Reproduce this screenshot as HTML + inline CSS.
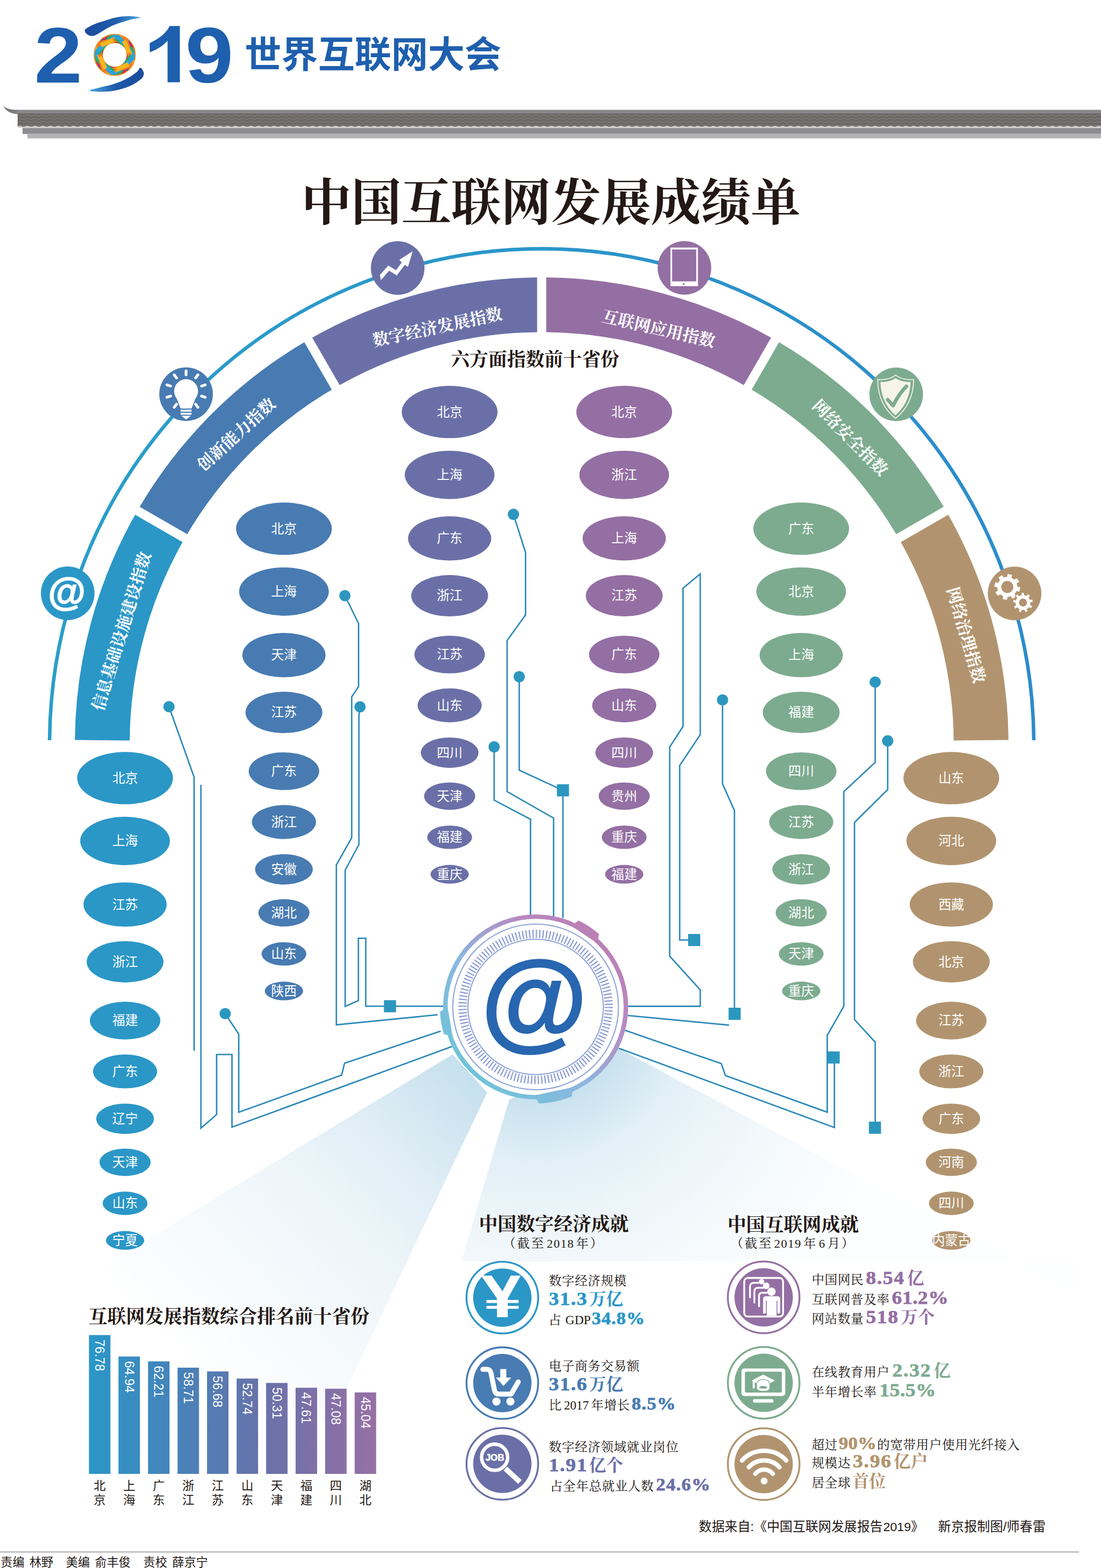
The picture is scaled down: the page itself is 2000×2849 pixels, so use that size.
<!DOCTYPE html>
<html lang="zh-CN"><head><meta charset="utf-8"><title>中国互联网发展成绩单</title>
<style>html,body{margin:0;padding:0;background:#fff}svg{display:block}</style></head>
<body>
<svg width="2000" height="2849" viewBox="0 0 2000 2849" role="img">
<desc>2019 世界互联网大会 — 中国互联网发展成绩单：六方面指数前十省份、互联网发展指数综合排名前十省份、中国数字经济成就、中国互联网成就</desc>
<defs>
<linearGradient id="bm1" gradientUnits="userSpaceOnUse" x1="855" y1="1950" x2="330" y2="2480"><stop offset="0" stop-color="#c6e0ee"/><stop offset="0.25" stop-color="#dfedf5"/><stop offset="0.5" stop-color="#eef6fa"/><stop offset="0.8" stop-color="#f8fbfd"/><stop offset="1" stop-color="#fff"/></linearGradient>
<radialGradient id="bm2" gradientUnits="userSpaceOnUse" cx="973" cy="1830" r="680"><stop offset="0.23" stop-color="#c6e0ee"/><stop offset="0.42" stop-color="#e3f0f7"/><stop offset="0.68" stop-color="#f2f8fb"/><stop offset="1" stop-color="#fdfeff"/></radialGradient>
<linearGradient id="br1" x1="0" x2="1" y1="0" y2="0"><stop offset="0" stop-color="#1c4a9c"/><stop offset="0.55" stop-color="#1f5cab"/><stop offset="1" stop-color="#4aa8de"/></linearGradient>
<linearGradient id="br2" x1="1" x2="0" y1="0" y2="0"><stop offset="0" stop-color="#1c4a9c"/><stop offset="0.55" stop-color="#1f5cab"/><stop offset="1" stop-color="#4aa8de"/></linearGradient>
<pattern id="wv" patternUnits="userSpaceOnUse" x="32" y="206.500" width="14" height="6"><path d="M0 3.400Q3.500 1.400 7 3.400T14 3.400" fill="none" stroke="#807a7a" stroke-width="1.500"/></pattern>
<pattern id="wv2" patternUnits="userSpaceOnUse" x="32" y="227.500" width="14" height="6"><path d="M0 3.400Q3.500 1.600 7 3.400T14 3.400" fill="none" stroke="#dcdcdc" stroke-width="2.600"/></pattern>
<linearGradient id="thin" x1="0" x2="1" y1="0" y2="0"><stop offset="0" stop-color="#2a9ec9"/><stop offset="1" stop-color="#2b8ccb"/></linearGradient>
<linearGradient id="mg" gradientUnits="userSpaceOnUse" x1="850" y1="1950" x2="1100" y2="1710"><stop offset="0" stop-color="#6fc3d8"/><stop offset="0.4" stop-color="#8cb6df"/><stop offset="0.75" stop-color="#b78bc2"/><stop offset="1" stop-color="#bb7fb5"/></linearGradient>
<linearGradient id="bg" gradientUnits="userSpaceOnUse" x1="161" y1="0" x2="683" y2="0"><stop offset="0" stop-color="#2a97c8"/><stop offset="0.3" stop-color="#4683ba"/><stop offset="0.62" stop-color="#6a71a9"/><stop offset="1" stop-color="#9770a5"/></linearGradient>
</defs>
<path d="M822 1916L885 1985L601 2583L20 2402Z" fill="url(#bm1)"/>
<path d="M925 1998L1124 1905L1960 2352L1960 2292L838 2292Z" fill="url(#bm2)"/>
<g transform="translate(62 149.5) scale(1.1 1)">
<text x="0" y="0" font-family="Liberation Sans" font-size="143" font-weight="bold" fill="#1e5fae">2</text>
</g>
<path d="M326.700 149.500V47.300H308Q300 65 272 78.300V95Q292 88 304.400 74V149.500Z" fill="#1e5fae"/>
<g transform="translate(336.5 149.5) scale(1.1 1)">
<text x="0" y="0" font-family="Liberation Sans" font-size="143" font-weight="bold" fill="#1e5fae">9</text>
</g>
<g fill="none" stroke-width="7.6" transform="translate(208.4 99.65)">
<circle r="29.850" stroke="#f28a1e" stroke-width="16.700"/>
<rect x="-26" y="-26" width="52" height="52" rx="10" stroke="#2c4a9a" transform="rotate(5)"/>
<rect x="-26" y="-26" width="52" height="52" rx="10" stroke="#d9177d" transform="rotate(20)"/>
<rect x="-26" y="-26" width="52" height="52" rx="10" stroke="#2faa4a" transform="rotate(35)"/>
<rect x="-26" y="-26" width="52" height="52" rx="10" stroke="#29a3dc" transform="rotate(50)"/>
<rect x="-26" y="-26" width="52" height="52" rx="10" stroke="#f6b71b" transform="rotate(65)"/>
<rect x="-26" y="-26" width="52" height="52" rx="10" stroke="#f47b20" transform="rotate(80)"/>
<rect x="-26" y="-26" width="52" height="52" rx="10" stroke="#2faa4a" stroke-dasharray="23.9 23.9" stroke-dashoffset="0" transform="rotate(35)"/>
<rect x="-26" y="-26" width="52" height="52" rx="10" stroke="#29a3dc" stroke-dasharray="23.9 23.9" stroke-dashoffset="11.9" transform="rotate(50)"/>
<rect x="-26" y="-26" width="52" height="52" rx="10" stroke="#f6b71b" stroke-dasharray="23.9 23.9" stroke-dashoffset="0" transform="rotate(65)"/>
</g>
<path d="M154.5 53.5C166 45 178 41 189.600 37.900C203 33 216 29.800 229.300 29.400C240 29 250 30.500 256.100 32.400C247 33 238 35 229.300 37.900C219 41 209 44 199.500 48.800C191 53 184 58 177.600 61.700C172 65 167 66.500 162.800 64.700C157 62.500 152.500 57.500 154.500 53.500Z" fill="url(#br1)"/>
<path d="M253.100 123.700C252 128 248.500 131 244.100 134.100C237 140 228 144.500 219.300 148C210 152 200 155 189.600 157C181 159 172 161.500 163.700 162.900L163.700 165.400C176 167 188 167 199.500 165.900C210 164.500 220 162.500 229.300 159C237 156 243.500 153 249.100 149C254 145.500 258 142.500 260 139.100C262 135 261.500 131 259 127.200C257.500 124.500 255 122.500 253.100 123.700Z" fill="url(#br2)"/>
<text x="444.5" y="122.500" font-family="'Liberation Sans', 'Noto Sans CJK SC', sans-serif" font-size="66.600" font-weight="bold" fill="#1e5fae">世界互联网大会</text>
<path d="M5.600 192.300C11 197 19 199.600 32 199.800L32 207.200C18 206.500 10 201 5.600 192.300Z" fill="#7b7a7e"/>
<rect x="30" y="199.500" width="1970" height="7" fill="#88888c"/>
<rect x="32" y="206" width="1968" height="25.500" fill="#6c6665"/>
<rect x="32" y="206.500" width="1968" height="24" fill="url(#wv)"/>
<rect x="32" y="227.500" width="1968" height="6" fill="url(#wv2)"/>
<rect x="41" y="232.500" width="1959" height="11" fill="#8d8d91"/>
<rect x="50" y="243.500" width="1950" height="8" fill="#b1b3b4"/>
<text x="1001" y="400" font-family="'Liberation Serif', 'Noto Serif CJK SC', serif" font-size="90.700" font-weight="bold" fill="#231815" text-anchor="middle">中国互联网发展成绩单</text>
<path d="M90.03 1344.93A894 900 0 0 1 984 452A894 900 0 0 1 1877.97 1344.93" fill="none" stroke="url(#thin)" stroke-width="6.4"/>
<path d="M185.8 1345A798.2 798.2 0 0 1 292.7 952.9" fill="none" stroke="#2b97c7" stroke-width="99.6"/>
<path d="M292.7 952.9A798.2 798.2 0 0 1 584.9 660.7" fill="none" stroke="#487bb2" stroke-width="99.6"/>
<path d="M584.9 660.7A798.2 798.2 0 0 1 984 553.8" fill="none" stroke="#6a70a7" stroke-width="99.6"/>
<path d="M984 553.8A798.2 798.2 0 0 1 1383.1 660.7" fill="none" stroke="#946fa3" stroke-width="99.6"/>
<path d="M1383.1 660.7A798.2 798.2 0 0 1 1675.3 952.9" fill="none" stroke="#7dab8f" stroke-width="99.6"/>
<path d="M1675.3 952.9A798.2 798.2 0 0 1 1782.2 1345" fill="none" stroke="#b1946f" stroke-width="99.6"/>
<path d="M339.3 979.8L246.1 926" stroke="#fff" stroke-width="16.6"/>
<path d="M611.8 707.3L558 614.1" stroke="#fff" stroke-width="16.6"/>
<path d="M984 607.6L984 500" stroke="#fff" stroke-width="16.6"/>
<path d="M1356.2 707.3L1410 614.1" stroke="#fff" stroke-width="16.6"/>
<path d="M1628.7 979.8L1721.9 926" stroke="#fff" stroke-width="16.6"/>
<g font-family="'Liberation Serif', 'Noto Serif CJK SC', serif" font-size="30" font-weight="bold" fill="#fff" text-anchor="middle">
<text transform="translate(230.9 1150.1) rotate(-73)">信息基础设施建设指数</text>
<text transform="translate(436.4 797.3) rotate(-42.5)">创新能力指数</text>
<text transform="translate(796.6 604.7) rotate(-12)">数字经济发展指数</text>
<text transform="translate(1193.8 607.6) rotate(13)">互联网应用指数</text>
<text transform="translate(1537 802.8) rotate(45.3)">网络安全指数</text>
<text transform="translate(1744.8 1157) rotate(73.9)">网络治理指数</text>
</g>
<circle cx="123" cy="1078" r="48.7" fill="#2b97c7"/>
<circle cx="338" cy="716.2" r="48.7" fill="#487bb2"/>
<circle cx="722.4" cy="487" r="48.7" fill="#6a70a7"/>
<circle cx="1243.3" cy="486.8" r="48.7" fill="#946fa3"/>
<circle cx="1628" cy="716.5" r="48.7" fill="#7dab8f"/>
<circle cx="1843" cy="1078.3" r="48.7" fill="#b1946f"/>
<text x="121.5" y="1098.5" font-family="Liberation Sans" font-size="70" font-weight="bold" fill="#fff" text-anchor="middle" stroke="#fff" stroke-width="1.6">@</text>
<g transform="translate(338 716.2)" fill="#fff">
<path d="M-9.900 26L-17 8A21.700 21.700 0 1 1 17 8L9.900 26Z"/>
<path d="M-9.900 28.300h19.800v3.400h-19.800zM-9.900 33.800h19.800v3.400h-19.800zM-8.700 39.400h17.400L0 46z"/>
<g stroke="#fff" stroke-width="5" stroke-linecap="round">
<path d="M-17.3 18.3L-21.5 23.9"/>
<path d="M-28.1 3.5L-34.7 5.7"/>
<path d="M-28.1 -14.7L-34.7 -16.9"/>
<path d="M-17.3 -29.5L-21.5 -35.1"/>
<path d="M0 -35.1L0 -42.1"/>
<path d="M17.3 -29.5L21.5 -35.1"/>
<path d="M28.1 -14.7L34.7 -16.9"/>
<path d="M28.1 3.5L34.7 5.7"/>
<path d="M17.3 18.3L21.5 23.9"/>
</g></g>
<path transform="translate(722.4 487)" fill="#fff" d="M-32.300 12.400L-17-4.600-3.100 4.100 7.400-10.100 3.100-15.100 27.300-30.600 18.600-2.100 13-5.800-1.700 13.400-15.500 4.700-30.400 21.900Z"/>
<g transform="translate(1243.3 486.8)"><rect x="-25.400" y="-37" width="49.900" height="70.200" fill="#fff"/><rect x="-22.400" y="-33.500" width="43.800" height="58" fill="#946fa3"/><circle cx="-1.300" cy="29.200" r="1.700" fill="#946fa3"/></g>
<g transform="translate(1628 716.5)">
<path d="M-1.200-34.800C-9-28.500-21-26-33.500-27C-34 2-22 28-1.200 43.700C19 28 32 2 31.700-27C20-26 7-28.500-1.200-34.800Z" fill="none" stroke="#f6f4e8" stroke-width="1.700"/>
<path d="M-1.200-29.500C-8-24.500-18-22-28.500-22.500C-28.500 2-18 24-1.200 38C15 24 26 2 26-22.500C16-22 6-24.500-1.200-29.500Z" fill="#f6f4e8"/>
<path d="M-15.500 9.600L-5.600 20.700Q4 0 18.600-14.600" fill="none" stroke="#7dab8f" stroke-width="6.500" stroke-linecap="round" stroke-linejoin="round"/>
</g>
<g transform="translate(1843 1078.3)">
<path d="M5 -12.3L10.4 -11L8.8 -3.3L3.4 -4.3A18.2 18.2 0 0 1 0 0.7L2.9 5.4L-3.6 9.8L-6.8 5.2A18.2 18.2 0 0 1 -12.7 6.4L-14 11.8L-21.7 10.2L-20.7 4.8A18.2 18.2 0 0 1 -25.7 1.4L-30.4 4.3L-34.8 -2.2L-30.2 -5.4A18.2 18.2 0 0 1 -31.4 -11.3L-36.8 -12.6L-35.2 -20.3L-29.8 -19.3A18.2 18.2 0 0 1 -26.4 -24.3L-29.3 -29L-22.8 -33.4L-19.6 -28.8A18.2 18.2 0 0 1 -13.7 -30L-12.4 -35.4L-4.7 -33.8L-5.700 -28.4A18.2 18.2 0 0 1 -0.700 -25L4 -27.9L8.4 -21.4L3.8 -18.2A18.2 18.2 0 0 1 5 -12.3Z" fill="#fff"/><circle cx="-13.200" cy="-11.800" r="10.900" fill="#b1946f"/>
<path d="M28.9 20.7L32.8 22.9L30.1 27.7L26.2 25.7A14.2 14.2 0 0 1 23 28.4L24.6 32.6L19.4 34.6L17.7 30.5A14.2 14.2 0 0 1 13.5 30.6L12 34.8L6.8 33.1L8.2 28.8A14.2 14.2 0 0 1 4.9 26.2L1 28.4L-1.8 23.7L1.9 21.3A14.2 14.2 0 0 1 1.1 17.2L-3.3 16.5L-2.5 11L2 11.6A14.2 14.2 0 0 1 4 7.9L1.1 4.5L5.2 0.9L8.2 4.2A14.2 14.2 0 0 1 12.1 2.7L12.1 -1.8L17.6 -2L17.8 2.5A14.2 14.2 0 0 1 21.8 3.9L24.6 0.4L28.9 3.8L26.2 7.4A14.2 14.2 0 0 1 28.4 11L32.8 10.2L33.9 15.6L29.5 16.5A14.2 14.2 0 0 1 28.9 20.7Z" fill="#fff" stroke="#b1946f" stroke-width="1.400"/><circle cx="15.300" cy="16.500" r="7.200" fill="#b1946f"/>
</g>
<text x="972" y="665" font-family="'Liberation Serif', 'Noto Serif CJK SC', serif" font-size="34" font-weight="bold" fill="#231815" text-anchor="middle">六方面指数前十省份</text>
<g fill="none" stroke="#2a88b8" stroke-width="2.6" stroke-linejoin="miter">
<path d="M307 1284L352.6 1412L352.6 1909"/>
<path d="M365 1426L365 2050L393.5 2025L393.5 1916L421.4 1916L421.4 2048L821 1901.5"/>
<path d="M409 1841.7L433.7 1879L433.7 2021L620.5 1953.4L626 1931.8L800.5 1873.5"/>
<path d="M626.5 1082.2L651.3 1132.8L651.3 1247.6L638.9 1266.2L638.9 1522L611 1571.7L611 1862L795 1843.8"/>
<path d="M654 1284.2L652 1300L652 1534.5L627 1581L627 1828.7L651 1818L651 1704.8L664.4 1704.8L664.4 1828.3L805 1828.3"/>
<path d="M932.7 934.6L954.7 1004L954.7 1117.3L921.2 1163.8L921.2 1438.3L1005.6 1486.4L1005.6 1666"/>
<path d="M943.2 1229.6L943.2 1399.5L1022.6 1436L1022.6 1668"/>
<path d="M897.6 1357L897.6 1453.8L963.7 1488.6L963.7 1664"/>
<path d="M1139 1828.4L1272 1828.4L1272 1798.6L1216.5 1737.2L1216.5 1357.3L1240.7 1320L1240.7 1068.8L1272 1042.8L1272 1335L1234.7 1390.8L1234.7 1708L1261 1708"/>
<path d="M1312.5 1271.7L1312.5 1424.3L1334.1 1472.6L1334.1 1842"/>
<path d="M1139 1845L1324.4 1862.6"/>
<path d="M1589.8 1239.3L1589.8 1385.2L1532.8 1438.4L1532.8 1828.4L1502.7 1881.2L1502.7 2020.8L1317.7 1954.2L1310.3 1932.6L1135.4 1872"/>
<path d="M1612.5 1346.1L1612.5 1434.7L1552.2 1494.2L1552.2 1852.6L1589.8 1893.5L1589.8 2049"/>
<path d="M1515.7 1921.4L1515.7 2048.7L1124.2 1904.7"/>
</g>
<g fill="#2b97bf">
<circle cx="307" cy="1284" r="10.3"/>
<circle cx="409" cy="1841.7" r="10.3"/>
<circle cx="626.5" cy="1082.2" r="10.3"/>
<circle cx="654" cy="1284.2" r="10.3"/>
<rect x="697.4" y="1817.3" width="22" height="22"/>
<circle cx="932.7" cy="934.6" r="10.3"/>
<circle cx="943.2" cy="1229.6" r="10.3"/>
<rect x="1011.6" y="1425" width="22" height="22"/>
<circle cx="897.6" cy="1357" r="10.3"/>
<rect x="1250" y="1697" width="22" height="22"/>
<circle cx="1312.5" cy="1271.7" r="10.3"/>
<rect x="1323.5" y="1831" width="22" height="22"/>
<circle cx="1589.8" cy="1239.3" r="10.3"/>
<circle cx="1612.5" cy="1346.1" r="10.3"/>
<rect x="1578.4" y="2038" width="22" height="22"/>
<rect x="1503.4" y="1910.4" width="22" height="22"/>
</g>
<g fill="#2b97c7">
<ellipse cx="227.2" cy="1413.8" rx="87" ry="47.5"/>
<ellipse cx="227.2" cy="1528" rx="81.5" ry="43.9"/>
<ellipse cx="227.2" cy="1643.5" rx="75.6" ry="40.2"/>
<ellipse cx="227.2" cy="1747.6" rx="69.8" ry="37.6"/>
<ellipse cx="227.2" cy="1854.4" rx="64" ry="34.3"/>
<ellipse cx="227.2" cy="1946.8" rx="58.2" ry="30.8"/>
<ellipse cx="227.2" cy="2032.8" rx="52.4" ry="27.6"/>
<ellipse cx="227.2" cy="2111.8" rx="46.5" ry="24.9"/>
<ellipse cx="227.2" cy="2186.4" rx="40.7" ry="21.3"/>
<ellipse cx="227.2" cy="2253.8" rx="34.8" ry="17"/>
</g>
<g font-family="'Liberation Sans', 'Noto Sans CJK SC', sans-serif" font-size="23.300" fill="#fff" text-anchor="middle">
<text x="227.2" y="1421.8">北京</text>
<text x="227.2" y="1536">上海</text>
<text x="227.2" y="1651.5">江苏</text>
<text x="227.2" y="1755.6">浙江</text>
<text x="227.2" y="1862.4">福建</text>
<text x="227.2" y="1954.8">广东</text>
<text x="227.2" y="2040.8">辽宁</text>
<text x="227.2" y="2119.8">天津</text>
<text x="227.2" y="2194.4">山东</text>
<text x="227.2" y="2261.8">宁夏</text>
</g>
<g fill="#487bb2">
<ellipse cx="515.8" cy="960.6" rx="87" ry="47.5"/>
<ellipse cx="515.8" cy="1074.8" rx="81.5" ry="43.9"/>
<ellipse cx="515.8" cy="1190.3" rx="75.6" ry="40.2"/>
<ellipse cx="515.8" cy="1294.4" rx="69.8" ry="37.6"/>
<ellipse cx="515.8" cy="1401.2" rx="64" ry="34.3"/>
<ellipse cx="515.8" cy="1493.6" rx="58.2" ry="30.8"/>
<ellipse cx="515.8" cy="1579.6" rx="52.4" ry="27.6"/>
<ellipse cx="515.8" cy="1658.6" rx="46.5" ry="24.9"/>
<ellipse cx="515.8" cy="1733.2" rx="40.7" ry="21.3"/>
<ellipse cx="515.8" cy="1800.6" rx="34.8" ry="17"/>
</g>
<g font-family="'Liberation Sans', 'Noto Sans CJK SC', sans-serif" font-size="23.300" fill="#fff" text-anchor="middle">
<text x="515.8" y="968.6">北京</text>
<text x="515.8" y="1082.8">上海</text>
<text x="515.8" y="1198.3">天津</text>
<text x="515.8" y="1302.4">江苏</text>
<text x="515.8" y="1409.2">广东</text>
<text x="515.8" y="1501.6">浙江</text>
<text x="515.8" y="1587.6">安徽</text>
<text x="515.8" y="1666.6">湖北</text>
<text x="515.8" y="1741.2">山东</text>
<text x="515.8" y="1808.6">陕西</text>
</g>
<g fill="#6a70a7">
<ellipse cx="816.8" cy="748.6" rx="87" ry="47.5"/>
<ellipse cx="816.8" cy="862.8" rx="81.5" ry="43.9"/>
<ellipse cx="816.8" cy="978.3" rx="75.6" ry="40.2"/>
<ellipse cx="816.8" cy="1082.4" rx="69.8" ry="37.6"/>
<ellipse cx="816.8" cy="1189.2" rx="64" ry="34.3"/>
<ellipse cx="816.8" cy="1281.6" rx="58.2" ry="30.8"/>
<ellipse cx="816.8" cy="1367.6" rx="52.4" ry="27.6"/>
<ellipse cx="816.8" cy="1446.6" rx="46.5" ry="24.9"/>
<ellipse cx="816.8" cy="1521.2" rx="40.7" ry="21.3"/>
<ellipse cx="816.8" cy="1588.6" rx="34.8" ry="17"/>
</g>
<g font-family="'Liberation Sans', 'Noto Sans CJK SC', sans-serif" font-size="23.300" fill="#fff" text-anchor="middle">
<text x="816.8" y="756.6">北京</text>
<text x="816.8" y="870.8">上海</text>
<text x="816.8" y="986.3">广东</text>
<text x="816.8" y="1090.4">浙江</text>
<text x="816.8" y="1197.2">江苏</text>
<text x="816.8" y="1289.6">山东</text>
<text x="816.8" y="1375.6">四川</text>
<text x="816.8" y="1454.6">天津</text>
<text x="816.8" y="1529.2">福建</text>
<text x="816.8" y="1596.6">重庆</text>
</g>
<g fill="#946fa3">
<ellipse cx="1133.9" cy="748.6" rx="87" ry="47.5"/>
<ellipse cx="1133.9" cy="862.8" rx="81.5" ry="43.9"/>
<ellipse cx="1133.9" cy="978.3" rx="75.6" ry="40.2"/>
<ellipse cx="1133.9" cy="1082.4" rx="69.8" ry="37.6"/>
<ellipse cx="1133.9" cy="1189.2" rx="64" ry="34.3"/>
<ellipse cx="1133.9" cy="1281.6" rx="58.2" ry="30.8"/>
<ellipse cx="1133.9" cy="1367.6" rx="52.4" ry="27.6"/>
<ellipse cx="1133.9" cy="1446.6" rx="46.5" ry="24.9"/>
<ellipse cx="1133.9" cy="1521.2" rx="40.7" ry="21.3"/>
<ellipse cx="1133.9" cy="1588.6" rx="34.8" ry="17"/>
</g>
<g font-family="'Liberation Sans', 'Noto Sans CJK SC', sans-serif" font-size="23.300" fill="#fff" text-anchor="middle">
<text x="1133.9" y="756.6">北京</text>
<text x="1133.9" y="870.8">浙江</text>
<text x="1133.9" y="986.3">上海</text>
<text x="1133.9" y="1090.4">江苏</text>
<text x="1133.9" y="1197.2">广东</text>
<text x="1133.9" y="1289.6">山东</text>
<text x="1133.9" y="1375.6">四川</text>
<text x="1133.9" y="1454.6">贵州</text>
<text x="1133.9" y="1529.2">重庆</text>
<text x="1133.9" y="1596.6">福建</text>
</g>
<g fill="#7dab8f">
<ellipse cx="1455.4" cy="960.6" rx="87" ry="47.5"/>
<ellipse cx="1455.4" cy="1074.8" rx="81.5" ry="43.9"/>
<ellipse cx="1455.4" cy="1190.3" rx="75.6" ry="40.2"/>
<ellipse cx="1455.4" cy="1294.4" rx="69.8" ry="37.6"/>
<ellipse cx="1455.4" cy="1401.2" rx="64" ry="34.3"/>
<ellipse cx="1455.4" cy="1493.6" rx="58.2" ry="30.8"/>
<ellipse cx="1455.4" cy="1579.6" rx="52.4" ry="27.6"/>
<ellipse cx="1455.4" cy="1658.6" rx="46.5" ry="24.9"/>
<ellipse cx="1455.4" cy="1733.2" rx="40.7" ry="21.3"/>
<ellipse cx="1455.4" cy="1800.6" rx="34.8" ry="17"/>
</g>
<g font-family="'Liberation Sans', 'Noto Sans CJK SC', sans-serif" font-size="23.300" fill="#fff" text-anchor="middle">
<text x="1455.4" y="968.6">广东</text>
<text x="1455.4" y="1082.8">北京</text>
<text x="1455.4" y="1198.3">上海</text>
<text x="1455.4" y="1302.4">福建</text>
<text x="1455.4" y="1409.2">四川</text>
<text x="1455.4" y="1501.6">江苏</text>
<text x="1455.4" y="1587.6">浙江</text>
<text x="1455.4" y="1666.6">湖北</text>
<text x="1455.4" y="1741.2">天津</text>
<text x="1455.4" y="1808.6">重庆</text>
</g>
<g fill="#b1946f">
<ellipse cx="1728.1" cy="1413.8" rx="87" ry="47.5"/>
<ellipse cx="1728.1" cy="1528" rx="81.5" ry="43.9"/>
<ellipse cx="1728.1" cy="1643.5" rx="75.6" ry="40.2"/>
<ellipse cx="1728.1" cy="1747.6" rx="69.8" ry="37.6"/>
<ellipse cx="1728.1" cy="1854.4" rx="64" ry="34.3"/>
<ellipse cx="1728.1" cy="1946.8" rx="58.2" ry="30.8"/>
<ellipse cx="1728.1" cy="2032.8" rx="52.4" ry="27.6"/>
<ellipse cx="1728.1" cy="2111.8" rx="46.5" ry="24.9"/>
<ellipse cx="1728.1" cy="2186.4" rx="40.7" ry="21.3"/>
<ellipse cx="1728.1" cy="2253.8" rx="34.8" ry="17"/>
</g>
<g font-family="'Liberation Sans', 'Noto Sans CJK SC', sans-serif" font-size="23.300" fill="#fff" text-anchor="middle">
<text x="1728.1" y="1421.8">山东</text>
<text x="1728.1" y="1536">河北</text>
<text x="1728.1" y="1651.5">西藏</text>
<text x="1728.1" y="1755.6">北京</text>
<text x="1728.1" y="1862.4">江苏</text>
<text x="1728.1" y="1954.8">浙江</text>
<text x="1728.1" y="2040.8">广东</text>
<text x="1728.1" y="2119.8">河南</text>
<text x="1728.1" y="2194.4">四川</text>
<text x="1728.1" y="2261.8">内蒙古</text>
</g>
<circle cx="973" cy="1829.5" r="163" fill="#fff"/>
<g fill="url(#mg)" stroke="none">
<path d="M1037.2 1681.9L1051.3 1672.4A175.5 175.5 0 0 1 1088.1 1697L1084.8 1713.7Z"/>
<path d="M1041 1975.4L1038.7 1992.2A175.5 175.5 0 0 1 979.1 2004.9L970.2 1990.5Z"/>
<path d="M822.2 1882.9L806.2 1878.9A174 174 0 0 1 799.2 1838.6L813 1829.5Z"/>
</g>
<circle cx="973" cy="1829.5" r="164" fill="none" stroke="url(#mg)" stroke-width="8.2"/>
<circle cx="973" cy="1829.5" r="150.5" fill="none" stroke="#8ea3d8" stroke-width="2"/>
<circle cx="973" cy="1829.5" r="132.7" fill="none" stroke="#8b9bd3" stroke-width="15" stroke-dasharray="2.207 3.924"/>
<circle cx="973" cy="1829.5" r="123" fill="none" stroke="#8ea3d8" stroke-width="2"/>
<text x="970.5" y="1885" font-family="Liberation Sans" font-size="199" font-weight="bold" fill="#2866b0" text-anchor="middle" stroke="#2866b0" stroke-width="2.2">@</text>
<text x="161" y="2404" font-family="'Liberation Serif', 'Noto Serif CJK SC', serif" font-size="34" font-weight="bold" fill="#231815">互联网发展指数综合排名前十省份</text>
<path d="M161.6 2678h39v-252.2h-39zM215.2 2678h39v-213.3h-39zM268.9 2678h39v-204.4h-39zM322.5 2678h39v-192.9h-39zM376.1 2678h39v-186.2h-39zM429.8 2678h39v-173.3h-39zM483.4 2678h39v-165.3h-39zM537 2678h39v-156.4h-39zM590.6 2678h39v-154.7h-39zM644.3 2678h39v-148h-39z" fill="url(#bg)"/>
<g font-family="'Liberation Sans', 'Noto Sans CJK SC', sans-serif" font-size="22" fill="#231815" text-anchor="middle">
<text x="181.1" y="2707">北</text><text x="181.1" y="2733">京</text>
<text x="234.7" y="2707">上</text><text x="234.7" y="2733">海</text>
<text x="288.4" y="2707">广</text><text x="288.4" y="2733">东</text>
<text x="342" y="2707">浙</text><text x="342" y="2733">江</text>
<text x="395.6" y="2707">江</text><text x="395.6" y="2733">苏</text>
<text x="449.2" y="2707">山</text><text x="449.2" y="2733">东</text>
<text x="502.9" y="2707">天</text><text x="502.9" y="2733">津</text>
<text x="556.5" y="2707">福</text><text x="556.5" y="2733">建</text>
<text x="610.1" y="2707">四</text><text x="610.1" y="2733">川</text>
<text x="663.8" y="2707">湖</text><text x="663.8" y="2733">北</text>
</g>
<text transform="translate(172.9 2433.8) rotate(90)" font-family="Liberation Sans" font-size="23" fill="#fff">76.78</text>
<text transform="translate(226.5 2472.7) rotate(90)" font-family="Liberation Sans" font-size="23" fill="#fff">64.94</text>
<text transform="translate(280.2 2481.6) rotate(90)" font-family="Liberation Sans" font-size="23" fill="#fff">62.21</text>
<text transform="translate(333.8 2493.1) rotate(90)" font-family="Liberation Sans" font-size="23" fill="#fff">58.71</text>
<text transform="translate(387.4 2499.8) rotate(90)" font-family="Liberation Sans" font-size="23" fill="#fff">56.68</text>
<text transform="translate(441.1 2512.7) rotate(90)" font-family="Liberation Sans" font-size="23" fill="#fff">52.74</text>
<text transform="translate(494.7 2520.7) rotate(90)" font-family="Liberation Sans" font-size="23" fill="#fff">50.31</text>
<text transform="translate(548.3 2529.6) rotate(90)" font-family="Liberation Sans" font-size="23" fill="#fff">47.61</text>
<text transform="translate(601.9 2531.3) rotate(90)" font-family="Liberation Sans" font-size="23" fill="#fff">47.08</text>
<text transform="translate(655.6 2538) rotate(90)" font-family="Liberation Sans" font-size="23" fill="#fff">45.04</text>
<text x="870" y="2236" font-family="'Liberation Serif', 'Noto Serif CJK SC', serif" font-size="34" font-weight="bold" fill="#231815">中国数字经济成就</text>
<text x="913.8" y="2267" font-family="'Liberation Serif', 'Noto Serif CJK SC', serif" font-size="23" letter-spacing="2.5" fill="#231815">（截至</text>
<text x="993.2" y="2267" font-family="Liberation Serif" font-size="22" fill="#231815" letter-spacing="1.5">2018</text>
<text x="1046.2" y="2267" font-family="'Liberation Serif', 'Noto Serif CJK SC', serif" font-size="23" letter-spacing="2.5" fill="#231815">年）</text>
<text x="1321.5" y="2237" font-family="'Liberation Serif', 'Noto Serif CJK SC', serif" font-size="34.100" font-weight="bold" fill="#231815">中国互联网成就</text>
<text x="1327.3" y="2267" font-family="'Liberation Serif', 'Noto Serif CJK SC', serif" font-size="23" letter-spacing="2.3" fill="#231815">（截至</text>
<text x="1406.2" y="2267" font-family="Liberation Serif" font-size="22" fill="#231815" letter-spacing="1.5">2019</text>
<text x="1459.2" y="2267" font-family="'Liberation Serif', 'Noto Serif CJK SC', serif" font-size="23" fill="#231815">年</text>
<text x="1487.5" y="2267" font-family="Liberation Serif" font-size="22" fill="#231815" letter-spacing="1.5">6</text>
<text x="1503" y="2267" font-family="'Liberation Serif', 'Noto Serif CJK SC', serif" font-size="23" letter-spacing="2.3" fill="#231815">月）</text>
<circle cx="912.5" cy="2357.7" r="65.1" fill="none" stroke="#2b97c7" stroke-width="3.3"/>
<circle cx="912.5" cy="2357.7" r="53" fill="#2b97c7"/>
<text x="997" y="2334.5" font-family="'Liberation Serif', 'Noto Serif CJK SC', serif" font-size="23" letter-spacing="0.6" fill="#231815">数字经济规模</text>
<text x="997" y="2370.7" font-family="Liberation Serif" font-size="33.5" font-weight="bold" fill="#2b97c7" letter-spacing="1.6" stroke="#2b97c7" stroke-width="0.75" textLength="70.88" lengthAdjust="spacingAndGlyphs">31.3</text>
<text x="1069.9" y="2370.7" font-family="'Liberation Serif', 'Noto Serif CJK SC', serif" font-size="31" font-weight="bold" fill="#2b97c7">万亿</text>
<text x="996.5" y="2405.5" font-family="'Liberation Serif', 'Noto Serif CJK SC', serif" font-size="23" fill="#231815">占</text>
<text x="1027.1" y="2405.5" font-family="Liberation Serif" font-size="23" fill="#231815">GDP</text>
<text x="1075.1" y="2405.5" font-family="Liberation Serif" font-size="30.5" font-weight="bold" fill="#2b97c7" letter-spacing="1" stroke="#2b97c7" stroke-width="0.75" textLength="96.87" lengthAdjust="spacingAndGlyphs">34.8%</text>
<circle cx="912.5" cy="2513.1" r="65.1" fill="none" stroke="#487bb2" stroke-width="3.3"/>
<circle cx="912.5" cy="2513.1" r="53" fill="#487bb2"/>
<text x="997" y="2489.9" font-family="'Liberation Serif', 'Noto Serif CJK SC', serif" font-size="23" letter-spacing="0.6" fill="#231815">电子商务交易额</text>
<text x="997" y="2526.1" font-family="Liberation Serif" font-size="33.5" font-weight="bold" fill="#487bb2" letter-spacing="1.6" stroke="#487bb2" stroke-width="0.75" textLength="70.88" lengthAdjust="spacingAndGlyphs">31.6</text>
<text x="1069.9" y="2526.1" font-family="'Liberation Serif', 'Noto Serif CJK SC', serif" font-size="31" font-weight="bold" fill="#487bb2">万亿</text>
<text x="997" y="2560.9" font-family="'Liberation Serif', 'Noto Serif CJK SC', serif" font-size="23" fill="#231815">比</text>
<text x="1024.6" y="2560.9" font-family="Liberation Serif" font-size="22.5" fill="#231815">2017</text>
<text x="1073.6" y="2560.9" font-family="'Liberation Serif', 'Noto Serif CJK SC', serif" font-size="23" letter-spacing="0.6" fill="#231815">年增长</text>
<text x="1147.4" y="2560.9" font-family="Liberation Serif" font-size="31" font-weight="bold" fill="#487bb2" letter-spacing="1.2" stroke="#487bb2" stroke-width="0.75" textLength="81.26" lengthAdjust="spacingAndGlyphs">8.5%</text>
<circle cx="912.5" cy="2659.8" r="65.1" fill="none" stroke="#6a70a7" stroke-width="3.3"/>
<circle cx="912.5" cy="2659.8" r="53" fill="#6a70a7"/>
<text x="997" y="2637.2" font-family="'Liberation Serif', 'Noto Serif CJK SC', serif" font-size="23" letter-spacing="0.6" fill="#231815">数字经济领域就业岗位</text>
<text x="997" y="2673.4" font-family="Liberation Serif" font-size="33.5" font-weight="bold" fill="#6a70a7" letter-spacing="1.6" stroke="#6a70a7" stroke-width="0.75" textLength="70.88" lengthAdjust="spacingAndGlyphs">1.91</text>
<text x="1069.9" y="2673.4" font-family="'Liberation Serif', 'Noto Serif CJK SC', serif" font-size="31" font-weight="bold" fill="#6a70a7">亿个</text>
<text x="999" y="2708.2" font-family="'Liberation Serif', 'Noto Serif CJK SC', serif" font-size="23" letter-spacing="0.6" fill="#231815">占全年总就业人数</text>
<text x="1191.8" y="2708.2" font-family="Liberation Serif" font-size="31" font-weight="bold" fill="#6a70a7" letter-spacing="1.2" stroke="#6a70a7" stroke-width="0.75" textLength="99.46" lengthAdjust="spacingAndGlyphs">24.6%</text>
<circle cx="1387.2" cy="2357.3" r="65.1" fill="none" stroke="#946fa3" stroke-width="3.3"/>
<circle cx="1387.2" cy="2357.3" r="53" fill="#946fa3"/>
<text x="1474.5" y="2332.8" font-family="'Liberation Serif', 'Noto Serif CJK SC', serif" font-size="23" letter-spacing="0.6" fill="#231815">中国网民</text>
<text x="1572.9" y="2332.8" font-family="Liberation Serif" font-size="33.5" font-weight="bold" fill="#946fa3" letter-spacing="1.6" stroke="#946fa3" stroke-width="0.75" textLength="70.88" lengthAdjust="spacingAndGlyphs">8.54</text>
<text x="1647.8" y="2332.8" font-family="'Liberation Serif', 'Noto Serif CJK SC', serif" font-size="31" font-weight="bold" fill="#946fa3">亿</text>
<text x="1474.5" y="2368.9" font-family="'Liberation Serif', 'Noto Serif CJK SC', serif" font-size="23" letter-spacing="0.6" fill="#231815">互联网普及率</text>
<text x="1620.1" y="2368.9" font-family="Liberation Serif" font-size="33.5" font-weight="bold" fill="#946fa3" letter-spacing="0.5" stroke="#946fa3" stroke-width="0.75" textLength="103.14" lengthAdjust="spacingAndGlyphs">61.2%</text>
<text x="1474.5" y="2404.2" font-family="'Liberation Serif', 'Noto Serif CJK SC', serif" font-size="23" letter-spacing="0.6" fill="#231815">网站数量</text>
<text x="1572.9" y="2404.2" font-family="Liberation Serif" font-size="33.5" font-weight="bold" fill="#946fa3" letter-spacing="1.6" stroke="#946fa3" stroke-width="0.75" textLength="60" lengthAdjust="spacingAndGlyphs">518</text>
<text x="1635.9" y="2404.2" font-family="'Liberation Serif', 'Noto Serif CJK SC', serif" font-size="31" font-weight="bold" fill="#946fa3">万个</text>
<circle cx="1387.2" cy="2512.5" r="65.1" fill="none" stroke="#7dab8f" stroke-width="3.3"/>
<circle cx="1387.2" cy="2512.5" r="53" fill="#7dab8f"/>
<text x="1474.5" y="2500.7" font-family="'Liberation Serif', 'Noto Serif CJK SC', serif" font-size="23" letter-spacing="0.6" fill="#231815">在线教育用户</text>
<text x="1621.1" y="2500.7" font-family="Liberation Serif" font-size="33.5" font-weight="bold" fill="#7dab8f" letter-spacing="1.6" stroke="#7dab8f" stroke-width="0.75" textLength="70.88" lengthAdjust="spacingAndGlyphs">2.32</text>
<text x="1696" y="2500.7" font-family="'Liberation Serif', 'Noto Serif CJK SC', serif" font-size="31" font-weight="bold" fill="#7dab8f">亿</text>
<text x="1474.5" y="2536.8" font-family="'Liberation Serif', 'Noto Serif CJK SC', serif" font-size="23" letter-spacing="0.6" fill="#231815">半年增长率</text>
<text x="1597.5" y="2536.8" font-family="Liberation Serif" font-size="33.5" font-weight="bold" fill="#7dab8f" letter-spacing="0.5" stroke="#7dab8f" stroke-width="0.75" textLength="103.14" lengthAdjust="spacingAndGlyphs">15.5%</text>
<circle cx="1387.2" cy="2660.3" r="65.1" fill="none" stroke="#b1946f" stroke-width="3.3"/>
<circle cx="1387.2" cy="2660.3" r="53" fill="#b1946f"/>
<text x="1474.5" y="2632.6" font-family="'Liberation Serif', 'Noto Serif CJK SC', serif" font-size="23" letter-spacing="0.6" fill="#231815">超过</text>
<text x="1523.7" y="2632.6" font-family="Liberation Serif" font-size="31" font-weight="bold" fill="#b1946f" letter-spacing="0.3" stroke="#b1946f" stroke-width="0.75" textLength="68.56" lengthAdjust="spacingAndGlyphs">90%</text>
<text x="1593.3" y="2632.6" font-family="'Liberation Serif', 'Noto Serif CJK SC', serif" font-size="23" letter-spacing="0.6" fill="#231815">的宽带用户使用光纤接入</text>
<text x="1474.5" y="2666.3" font-family="'Liberation Serif', 'Noto Serif CJK SC', serif" font-size="23" letter-spacing="0.6" fill="#231815">规模达</text>
<text x="1549.3" y="2666.3" font-family="Liberation Serif" font-size="33.5" font-weight="bold" fill="#b1946f" letter-spacing="1.6" stroke="#b1946f" stroke-width="0.75" textLength="70.88" lengthAdjust="spacingAndGlyphs">3.96</text>
<text x="1623.2" y="2666.3" font-family="'Liberation Serif', 'Noto Serif CJK SC', serif" font-size="31" font-weight="bold" fill="#b1946f">亿户</text>
<text x="1474.5" y="2701.6" font-family="'Liberation Serif', 'Noto Serif CJK SC', serif" font-size="23" letter-spacing="0.6" fill="#231815">居全球</text>
<text x="1548.3" y="2701.6" font-family="'Liberation Serif', 'Noto Serif CJK SC', serif" font-size="30.500" font-weight="bold" fill="#b1946f">首位</text>
<g transform="translate(912.5 2357.7)" fill="#fff"><path d="M-38.5-39.9h19L.3-11.4 15.3-39.9h17.9L9.8 1.5v2.9h19.8v5.300H9.8v5.300h19.8v5.200H9.8v15.3h-19.5V20.2h-19.2V15h19.2V9.7h-19.2V4.4h19.2V1.5z"/></g>
<g transform="translate(912.5 2513.1)" fill="none" stroke="#fff" stroke-width="9" stroke-linecap="round" stroke-linejoin="round"><path d="M-35.5-25h7.5q6 0 7.5 7l6 30q1.5 8 8 8h22.5L29-2.3"/></g>
<g transform="translate(912.5 2513.1)" fill="#fff"><circle cx="-10.7" cy="33.5" r="7.4"/><circle cx="14.7" cy="33.5" r="7.4"/><path d="M-3.8-25.5h11.1v15.3h8.9L2 5.1-11.7-10.2h7.9z"/></g>
<g transform="translate(912.5 2659.8)"><circle cx="-14" cy="-12.1" r="23.7" fill="none" stroke="#fff" stroke-width="6.4"/><path d="M5.5 8.5L32 33" stroke="#fff" stroke-width="9.5"/></g>
<text x="898.9" y="2653.6" font-family="Liberation Sans" font-size="16.5" font-weight="bold" fill="#fff" text-anchor="middle" stroke="#fff" stroke-width="0.6">JOB</text>
<g transform="translate(1387.2 2357.3)"><rect x="-35.3" y="-35.3" width="70.6" height="70.2" rx="6.5" fill="none" stroke="#fff" stroke-width="3.3"/><g fill="none" stroke="#fff" stroke-width="3.3" stroke-linecap="round"><path d="M-24.8 0v-19q0-7.4 7.4-7.4h8.4"/><path d="M-16.9 9.5v-20q0-6.9 6.9-6.9h9.5"/><path d="M-8.4 16.3v-18.4q0-6.3 5.8-6.3h8.4"/></g><g fill="#fff"><circle cx="-3.7" cy="-28.5" r="4.9"/><circle cx="4.7" cy="-21.1" r="6"/><circle cx="14.2" cy="-10.5" r="7.6"/><path d="M-1 29.5V3q0-5 5-5h21q5 0 5 5v24q0 2.500-2.500 2.500t-2.500-2.500V6h-1.500v27.300H5.500V6H4v21q0 2.500-2.500 2.500T-1 29.500z"/></g></g>
<g transform="translate(1387.2 2512.5)"><rect x="-40.3" y="-26.1" width="79.6" height="50.1" rx="5" fill="#fff"/><rect x="-34" y="-20.3" width="67" height="38" rx="2.500" fill="#7dab8f"/><rect x="-19.200" y="29.800" width="36.900" height="6.300" rx="2" fill="#fff"/><path d="M-21.900-4L-.800-15 20.300-4 10.500 1.200v8.500q0 5-11.300 5t-11.300-5v-8.500l-4.100-2.200v11h-3.700v-13z" fill="#fff"/><ellipse cx="-.800" cy="8.200" rx="7.400" ry="2.400" fill="#7dab8f"/><path d="M-12.100.700q0-6.500 11.300-6.500t11.300 6.500" fill="none" stroke="#7dab8f" stroke-width="1.300"/></g>
<g transform="translate(1387.2 2660.3)"><circle cx=".8" cy="30.600" r="6.300" fill="#fff"/><path d="M-15 17.4A20.6 20.6 0 0 1 16.6 17.4M-27 5.6A37.4 37.4 0 0 1 28.6 5.6M-39.3 -6.8A54.8 54.8 0 0 1 40.9 -6.8" fill="none" stroke="#fff" stroke-width="8" stroke-linecap="round"/></g>
<text x="1269.5" y="2782" font-family="'Liberation Sans', 'Noto Sans CJK SC', sans-serif" font-size="23.400" fill="#231815">数据来自:《中国互联网发展报告</text>
<text x="1604.6" y="2782" font-family="Liberation Sans" font-size="22.5" fill="#231815">2019</text>
<text x="1654.7" y="2782" font-family="'Liberation Sans', 'Noto Sans CJK SC', sans-serif" font-size="23.400" fill="#231815">》</text>
<text x="1704.1" y="2782" font-family="'Liberation Sans', 'Noto Sans CJK SC', sans-serif" font-size="23.600" fill="#231815">新京报制图/师春雷</text>
<rect x="0" y="2819" width="1960" height="1.6" fill="#9a9a9a"/>
<g font-family="'Liberation Sans', 'Noto Sans CJK SC', sans-serif" font-size="21.700" fill="#231815">
<text x="1" y="2846">责编</text>
<text x="53.4" y="2846">林野</text>
<text x="119.8" y="2846">美编</text>
<text x="172.2" y="2846">俞丰俊</text>
<text x="260.3" y="2846">责校</text>
<text x="312.7" y="2846">薛京宁</text>
</g>
</svg>
</body></html>
